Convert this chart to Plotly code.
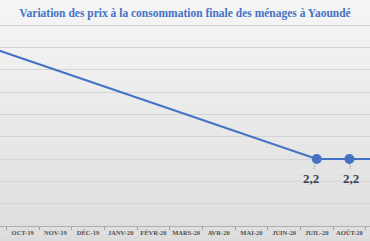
import plotly.graph_objects as go

categories = ["SEPT-19", "OCT-19", "NOV-19", "DÉC-19", "JANV-20", "FÉVR-20", "MARS-20",
              "AVR-20", "MAI-20", "JUIN-20", "JUIL-20", "AOÛT-20", "SEPT-20"]
values = [2.7, None, None, None, None, None, None, None, None, None, 2.2, 2.2, 2.2]
labels = ["", "", "", "", "", "", "", "", "", "", "2,2", "2,2", ""]
marker_shown = [False] * 10 + [True, True, True]

title = "Variation des prix à la consommation finale des ménages à Yaoundé"

fig = go.Figure()
fig.add_trace(go.Scatter(
    x=categories, y=values, mode="lines", connectgaps=True,
    line=dict(color="#4472C4", width=2), hoverinfo="skip", showlegend=False,
))
mx = [c for c, s in zip(categories, marker_shown) if s]
my = [v for v, s in zip(values, marker_shown) if s]
fig.add_trace(go.Scatter(
    x=mx, y=my, mode="markers",
    marker=dict(color="#4472C4", size=10), showlegend=False,
))

offsets = {10: (-6, 19), 11: (2, 19)}
for i, (c, v, t) in enumerate(zip(categories, values, labels)):
    if t:
        ax, ay = offsets.get(i, (0, 19))
        fig.add_annotation(
            x=c, y=v, text="<b>" + t + "</b>", showarrow=True, arrowhead=0, arrowwidth=0.8,
            arrowcolor="#a6a6a6", ax=ax, ay=ay, standoff=5, yanchor="middle",
            font=dict(family="Liberation Serif", size=13, color="#3b3f4f"),
        )

# background gradient bands
n = 60
top = (247, 247, 247)
bot = (218, 218, 218)
shapes = []
for k in range(n):
    f = k / (n - 1)
    col = tuple(int(round(top[j] + (bot[j] - top[j]) * f)) for j in range(3))
    shapes.append(dict(type="rect", xref="paper", yref="paper", x0=-0.1, x1=1.1,
                       y0=1.2 - (k + 1) * 1.4 / n, y1=1.2 - k * 1.4 / n,
                       fillcolor="rgb(%d,%d,%d)" % col, line=dict(width=0), layer="below"))

fig.update_layout(
    width=370, height=241,
    margin=dict(l=0, r=0, t=24, b=15),
    paper_bgcolor="#f0f0f0", plot_bgcolor="rgba(0,0,0,0)",
    shapes=shapes,
    title=dict(text="<b>" + title + "</b>", x=0.5, xanchor="center", y=0.947, yanchor="middle",
               font=dict(family="Liberation Serif", size=11.5, color="#4472C4")),
    xaxis=dict(
        categoryorder="array", categoryarray=categories,
        range=[0.306, 11.63], tickson="boundaries", ticks="outside", ticklen=3,
        tickcolor="#a0a0a0", showline=True, linecolor="#b0b0b0", linewidth=1,
        showgrid=False, tickangle=0,
        tickfont=dict(family="Liberation Serif", size=6.5, color="#505050"),
        tickprefix="<b>", ticksuffix="</b>",
    ),
    yaxis=dict(
        range=[1.9, 2.805], dtick=0.1, tick0=1.9, showticklabels=False,
        gridcolor="#d4d4d4", gridwidth=1, zeroline=False, showline=False,
    ),
)

fig.write_html("out.html")
